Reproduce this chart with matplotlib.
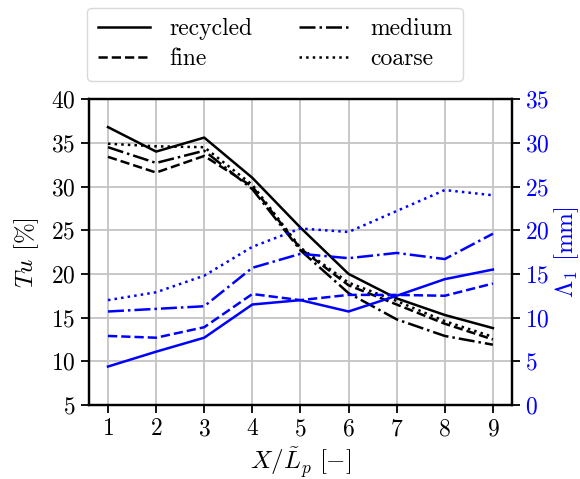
import matplotlib
matplotlib.use('Agg')
import matplotlib.pyplot as plt

plt.rcParams['font.family'] = 'serif'
plt.rcParams['font.serif'] = ['cmr10']
plt.rcParams['mathtext.fontset'] = 'cm'
plt.rcParams['axes.unicode_minus'] = False
plt.rcParams['axes.formatter.use_mathtext'] = True

# streamwise stations
stations = [1, 2, 3, 4, 5, 6, 7, 8, 9]

# turbulence intensity Tu [%]
tu_recycled = [36.8, 34.0, 35.6, 31.0, 25.3, 20.0, 17.2, 15.3, 13.8]
tu_fine = [33.4, 31.6, 33.5, 30.0, 22.9, 18.7, 16.5, 14.3, 12.5]
tu_medium = [34.5, 32.7, 34.1, 29.7, 22.7, 17.8, 14.8, 12.9, 11.9]
tu_coarse = [34.9, 34.6, 34.5, 30.2, 23.0, 19.0, 16.9, 14.6, 12.8]

# integral length scale Lambda_1 [mm]
lam_recycled = [4.4, 6.1, 7.7, 11.5, 12.0, 10.7, 12.5, 14.4, 15.5]
lam_fine = [7.9, 7.7, 8.9, 12.7, 12.0, 12.6, 12.6, 12.5, 13.9]
lam_medium = [10.7, 11.0, 11.3, 15.7, 17.3, 16.8, 17.4, 16.7, 19.6]
lam_coarse = [12.0, 12.9, 14.8, 18.1, 20.2, 19.8, 22.2, 24.6, 24.0]

labels = ['recycled', 'fine', 'medium', 'coarse']
styles = ['-', '--', '-.', ':']

fig = plt.figure(figsize=(5.8, 4.79), dpi=100)
ax = fig.add_axes([0.153, 0.1545, 0.73, 0.6385])
ax2 = ax.twinx()

lw = 1.8
tu_all = [tu_recycled, tu_fine, tu_medium, tu_coarse]
lam_all = [lam_recycled, lam_fine, lam_medium, lam_coarse]
handles = []
for tu, ls, lab in zip(tu_all, styles, labels):
    h, = ax.plot(stations, tu, color='black', ls=ls, lw=lw, label=lab)
    handles.append(h)
for lam, ls in zip(lam_all, styles):
    ax2.plot(stations, lam, color='blue', ls=ls, lw=lw)

ax.set_ylim(5, 40)
ax2.set_ylim(0, 35)
ax.set_xticks(stations)
ax.set_yticks(range(5, 41, 5))
ax2.set_yticks(range(0, 36, 5))
ax.grid(True, color='#c4c4c4', lw=1.3)
ax.set_axisbelow(True)

fs = 17
ax.set_xlabel(r'$X/\tilde{L}_p\ [-]$', fontsize=fs + 1, labelpad=4)
ax.set_ylabel(r'$Tu$ [%]', fontsize=fs + 1, labelpad=7)
ax2.set_ylabel(r'$\Lambda_1$ [mm]', fontsize=fs + 1, color='blue', labelpad=2)
ax.tick_params(labelsize=fs, length=6, width=1.3)
ax2.tick_params(labelsize=fs, length=6, width=1.3, labelcolor='blue')
for a in (ax, ax2):
    for s in a.spines.values():
        s.set_linewidth(1.6)

# two columns: recycled/fine on the left, medium/coarse on the right
ax.legend(handles=handles, loc='lower left', bbox_to_anchor=(-0.003, 1.06),
          ncol=2, fontsize=fs, frameon=True, fancybox=True,
          edgecolor='#d0d0d0', handlelength=2.2, handletextpad=0.8,
          columnspacing=2.0, borderaxespad=0.0, borderpad=0.45,
          labelspacing=0.32)

fig.savefig('out.png', dpi=100)
